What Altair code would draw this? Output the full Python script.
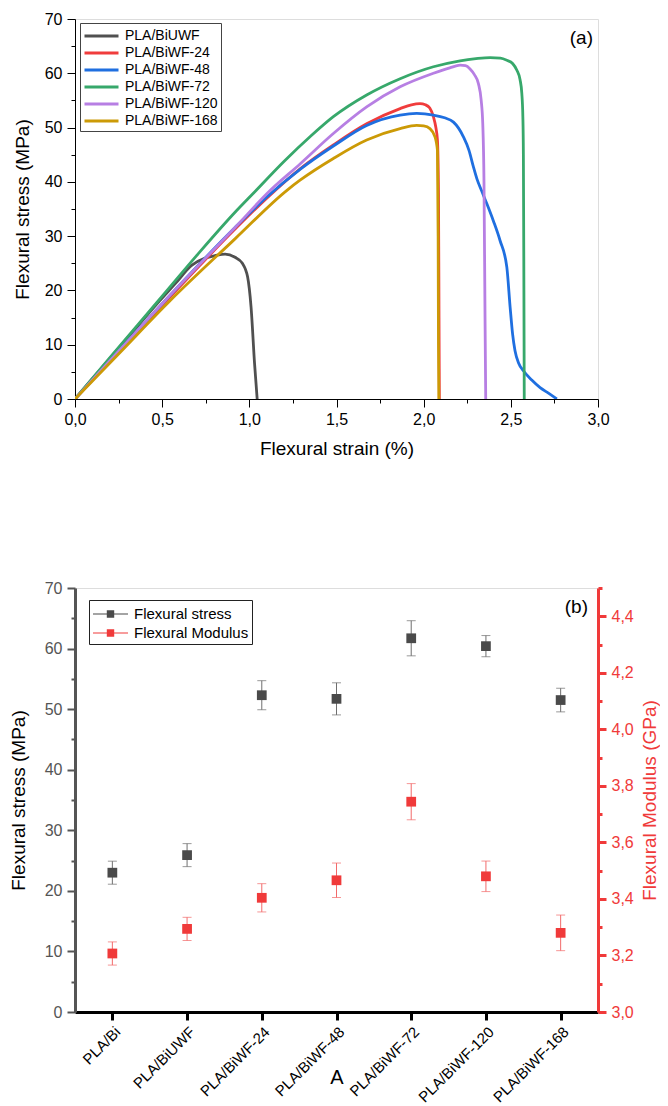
import altair as alt
import pandas as pd

# ---------------- Panel (a): stress-strain curves ----------------
series_names = ["PLA/BiUWF", "PLA/BiWF-24", "PLA/BiWF-48", "PLA/BiWF-72", "PLA/BiWF-120", "PLA/BiWF-168"]
series_colors = ["#505050", "#f03c3c", "#1f6fe0", "#37a86b", "#b77fe3", "#cc9a06"]

uwf_strain = [0, 0.3, 0.478, 0.574, 0.669, 0.75, 0.803, 0.861, 0.918, 0.96, 0.99, 1.01, 1.03, 1.045]
uwf_stress = [0, 11.2, 17.8, 21.2, 24.6, 26.0, 26.4, 26.7, 26.1, 25.0, 22.5, 16.9, 6.5, 0]

wf24_strain = [0, 0.25, 0.516, 0.918, 1.1, 1.291, 1.482, 1.673, 1.865, 1.93, 1.979, 2.01, 2.035, 2.056, 2.07, 2.079, 2.085, 2.088, 2.09]
wf24_stress = [0, 8.7, 17.8, 31.3, 37.0, 42.4, 46.8, 50.7, 53.5, 54.2, 54.4, 54.2, 53.6, 52.0, 50.0, 47.7, 38, 15, 0]

wf48_strain = [0, 0.25, 0.516, 0.918, 1.1, 1.291, 1.482, 1.673, 1.865, 1.96, 2.056, 2.12, 2.171, 2.2, 2.228, 2.26,
               2.285, 2.305, 2.333, 2.362, 2.40, 2.438, 2.477, 2.496, 2.51, 2.524, 2.545, 2.572, 2.62, 2.668, 2.72, 2.764]
wf48_stress = [0, 8.8, 18.1, 31.6, 37.2, 42.3, 46.6, 50.4, 52.3, 52.6, 52.3, 51.8, 51.0, 49.9, 48.3, 45.8,
               42.8, 40.6, 38.3, 36.0, 32.8, 29.2, 24.3, 16.9, 12.0, 8.9, 6.6, 5.2, 3.5, 2.1, 1.0, 0]

wf72_strain = [0, 0.2, 0.478, 0.7, 0.918, 1.023, 1.2, 1.348, 1.482, 1.673, 1.865, 2.056, 2.209, 2.3, 2.381, 2.44,
               2.477, 2.51, 2.534, 2.553, 2.563, 2.569, 2.572, 2.575, 2.577]
wf72_stress = [0, 7.6, 18.1, 26.5, 34.4, 37.9, 43.8, 48.3, 52.0, 56.0, 59.0, 61.2, 62.3, 62.7, 62.9, 62.8,
               62.4, 61.8, 60.6, 58.8, 56.3, 52, 45, 20, 0]

wf120_strain = [0, 0.25, 0.516, 0.918, 1.119, 1.291, 1.482, 1.673, 1.865, 2.056, 2.15, 2.209, 2.24, 2.266, 2.29,
                2.314, 2.33, 2.339, 2.346, 2.352, 2.356]
wf120_stress = [0, 8.8, 18.1, 31.6, 38.4, 43.3, 48.9, 53.8, 57.5, 60.0, 61.0, 61.5, 61.4, 60.8, 59.8,
                58.1, 55, 50.7, 40, 15, 0]

wf168_strain = [0, 0.25, 0.545, 0.918, 1.214, 1.291, 1.482, 1.673, 1.865, 1.96, 2.0, 2.036, 2.065, 2.079, 2.083, 2.085, 2.087]
wf168_stress = [0, 8.3, 18.1, 29.5, 38.4, 40.3, 44.3, 47.7, 49.8, 50.4, 50.3, 49.8, 48.3, 45.8, 30, 10, 0]

strains = [uwf_strain, wf24_strain, wf48_strain, wf72_strain, wf120_strain, wf168_strain]
stresses = [uwf_stress, wf24_stress, wf48_stress, wf72_stress, wf120_stress, wf168_stress]

# ---------------- Panel (b): summary values ----------------
categories = ["PLA/Bi", "PLA/BiUWF", "PLA/BiWF-24", "PLA/BiWF-48", "PLA/BiWF-72", "PLA/BiWF-120", "PLA/BiWF-168"]
stress_mean = [23.0, 25.9, 52.3, 51.7, 61.7, 60.4, 51.5]
stress_err = [1.9, 1.9, 2.4, 2.65, 2.9, 1.75, 1.95]
modulus_mean = [3.207, 3.294, 3.404, 3.466, 3.744, 3.480, 3.280]
modulus_err = [0.041, 0.041, 0.05, 0.061, 0.064, 0.054, 0.063]
measure_names = ["Flexural stress", "Flexural Modulus"]
measure_colors = ["#4a4a4a", "#f03a3a"]

FONT = "Liberation Sans"
W = 523
HA = 380
HB = 424
RED = "#f03a3a"

rows = []
for name, xs, ys in zip(series_names, strains, stresses):
    for i, (x, y) in enumerate(zip(xs, ys)):
        rows.append({"series": name, "strain": x, "stress": y, "idx": i})
df_a = pd.DataFrame(rows)

x_vals_a = [i * 0.25 for i in range(13)]
y_vals = [i * 5 for i in range(15)]
half_test = "abs(datum.value*2-round(datum.value*2))<0.001"

x_axis_a = alt.Axis(
    values=x_vals_a, title="Flexural strain (%)",
    labelExpr=half_test + " ? replace(format(datum.value,'.1f'),'.',',') : ''",
    tickSize={"condition": {"test": half_test, "value": 8}, "value": 4},
    labelFlush=False, labelOverlap=False, grid=False,
    domainColor="black", tickColor="black", labelColor="black", titleColor="black",
    labelFontSize=16, titleFontSize=19, titleFontWeight="normal", labelPadding=4, titlePadding=12,
    labelFont=FONT, titleFont=FONT,
)
y_axis_a = alt.Axis(
    values=y_vals, title="Flexural stress (MPa)",
    labelExpr="datum.value % 10 === 0 ? datum.label : ''",
    tickSize={"condition": {"test": "datum.value % 10 === 0", "value": 8}, "value": 4},
    labelOverlap=False, grid=False,
    domainColor="black", tickColor="black", labelColor="black", titleColor="black",
    labelFontSize=16, titleFontSize=19, titleFontWeight="normal", labelPadding=5,
    titleAngle=270, titleBaseline="bottom", titleX=-43,
    labelFont=FONT, titleFont=FONT,
)

lines = alt.Chart(df_a).mark_line(strokeWidth=2.8, interpolate="monotone", clip=True).encode(
    x=alt.X("strain:Q", scale=alt.Scale(domain=[0, 3], nice=False, zero=False), axis=x_axis_a),
    y=alt.Y("stress:Q", scale=alt.Scale(domain=[0, 70], nice=False), axis=y_axis_a),
    color=alt.Color(
        "series:N",
        scale=alt.Scale(domain=series_names, range=series_colors),
        legend=alt.Legend(
            orient="none", legendX=5, legendY=4, title=None,
            symbolType="M-1,0H3", symbolStrokeWidth=3, symbolSize=289,
            labelFontSize=14, labelFont=FONT, labelColor="black", labelOffset=22,
            strokeColor="#444", fillColor="white", padding=3, rowPadding=0,
        ),
        sort=series_names,
    ),
    order="idx:Q",
)

label_a = alt.Chart(pd.DataFrame({"t": ["(a)"]})).mark_text(
    align="right", baseline="top", fontSize=19, font=FONT, color="black"
).encode(x=alt.value(W - 5), y=alt.value(10), text="t:N")

chart_a = alt.layer(lines, label_a).properties(width=W, height=HA)

# ---------------- Panel (b) ----------------
df_s = pd.DataFrame({
    "sample": categories,
    "value": stress_mean,
    "lo": [m - e for m, e in zip(stress_mean, stress_err)],
    "hi": [m + e for m, e in zip(stress_mean, stress_err)],
    "measure": [measure_names[0]] * len(categories),
})
df_m = pd.DataFrame({
    "sample": categories,
    "value": modulus_mean,
    "lo": [m - e for m, e in zip(modulus_mean, modulus_err)],
    "hi": [m + e for m, e in zip(modulus_mean, modulus_err)],
    "measure": [measure_names[1]] * len(categories),
})

x_b = alt.X(
    "sample:N",
    scale=alt.Scale(type="point", domain=categories, padding=0.5),
    axis=alt.Axis(
        title="A", labelAngle=-45, labelFontSize=15, labelFont=FONT, labelColor="black",
        domainColor="black", domainWidth=3, tickColor="black", tickWidth=3, tickSize=8,
        titleFontSize=20, titleFont=FONT, titleFontWeight="normal", titleColor="black",
        titleY=71, titleBaseline="alphabetic", labelPadding=4, grid=False,
    ),
)

y_axis_bl = alt.Axis(
    values=y_vals, title="Flexural stress (MPa)",
    labelExpr="datum.value % 10 === 0 ? datum.label : ''",
    tickSize={"condition": {"test": "datum.value % 10 === 0", "value": 8}, "value": 4},
    labelOverlap=False, grid=False,
    domainColor="#555555", domainWidth=3, tickColor="#555555", tickWidth=2,
    labelColor="#555555", titleColor="black",
    labelFontSize=16, titleFontSize=19, titleFontWeight="normal", labelPadding=5,
    titleAngle=270, titleBaseline="bottom", titleX=-47,
    labelFont=FONT, titleFont=FONT,
)
y_scale_bl = alt.Scale(domain=[0, 70], nice=False)

mod_vals = [round(3.0 + 0.1 * i, 1) for i in range(16)]
fifth_test = "abs(datum.value*5-round(datum.value*5))<0.001"
y_axis_br = alt.Axis(
    orient="right", values=mod_vals, title="Flexural Modulus (GPa)",
    labelExpr=fifth_test + " ? replace(format(datum.value,'.1f'),'.',',') : ''",
    tickSize={"condition": {"test": fifth_test, "value": 8}, "value": 4},
    labelOverlap=False, grid=False,
    domainColor=RED, domainWidth=3, tickColor=RED, tickWidth=3,
    labelColor=RED, titleColor=RED,
    labelFontSize=16, titleFontSize=19, titleFontWeight="normal", labelPadding=5,
    titleAngle=270, titleBaseline="bottom", titleX=61,
    labelFont=FONT, titleFont=FONT,
)
y_scale_br = alt.Scale(domain=[3.0, 4.5], nice=False, zero=False)

color_b = alt.Color(
    "measure:N",
    scale=alt.Scale(domain=measure_names, range=measure_colors),
    legend=alt.Legend(
        orient="none", legendX=14, legendY=12, title=None,
        symbolType="M-1,-0.05H2.5V0.05H-1Z M0.38,-0.37H1.12V0.37H0.38Z",
        symbolSize=400, labelFontSize=15, labelFont=FONT, labelColor="black", labelOffset=20,
        strokeColor="#222", fillColor="white", padding=3, rowPadding=0,
    ),
    sort=measure_names,
)

s_base = alt.Chart(df_s)
s_rule = s_base.mark_rule(color="#6e6e6e", strokeWidth=1).encode(
    x=x_b, y=alt.Y("lo:Q", scale=y_scale_bl, axis=y_axis_bl), y2="hi:Q")
s_cap_lo = s_base.mark_tick(color="#6e6e6e", thickness=1, size=9, orient="horizontal").encode(
    x=x_b, y=alt.Y("lo:Q", scale=y_scale_bl, axis=y_axis_bl))
s_cap_hi = s_base.mark_tick(color="#6e6e6e", thickness=1, size=9, orient="horizontal").encode(
    x=x_b, y=alt.Y("hi:Q", scale=y_scale_bl, axis=y_axis_bl))
s_pts = s_base.mark_point(shape="square", filled=True, size=95, opacity=1).encode(
    x=x_b, y=alt.Y("value:Q", scale=y_scale_bl, axis=y_axis_bl), color=color_b)
stress_layer = alt.layer(s_rule, s_cap_lo, s_cap_hi, s_pts)

m_base = alt.Chart(df_m)
m_rule = m_base.mark_rule(color="#f26a6a", strokeWidth=1).encode(
    x=x_b, y=alt.Y("lo:Q", scale=y_scale_br, axis=y_axis_br), y2="hi:Q")
m_cap_lo = m_base.mark_tick(color="#f26a6a", thickness=1, size=9, orient="horizontal").encode(
    x=x_b, y=alt.Y("lo:Q", scale=y_scale_br, axis=y_axis_br))
m_cap_hi = m_base.mark_tick(color="#f26a6a", thickness=1, size=9, orient="horizontal").encode(
    x=x_b, y=alt.Y("hi:Q", scale=y_scale_br, axis=y_axis_br))
m_pts = m_base.mark_point(shape="square", filled=True, size=95, opacity=1).encode(
    x=x_b, y=alt.Y("value:Q", scale=y_scale_br, axis=y_axis_br), color=color_b)
modulus_layer = alt.layer(m_rule, m_cap_lo, m_cap_hi, m_pts)

label_b = alt.Chart(pd.DataFrame({"t": ["(b)"]})).mark_text(
    align="right", baseline="top", fontSize=19, font=FONT, color="black"
).encode(x=alt.value(W - 10), y=alt.value(10), text="t:N")

chart_b = alt.layer(stress_layer, modulus_layer, label_b).resolve_scale(y="independent").properties(
    width=W, height=HB)

chart = alt.vconcat(chart_a, chart_b, spacing=120).resolve_scale(
    color="independent"
).resolve_legend(color="independent").properties(
    padding={"left": 0, "top": 2, "right": 0, "bottom": 0}
).configure_view(stroke="black", strokeWidth=1).configure(font=FONT)

chart.save("out.html", embed_options={"renderer": "svg", "actions": False})
